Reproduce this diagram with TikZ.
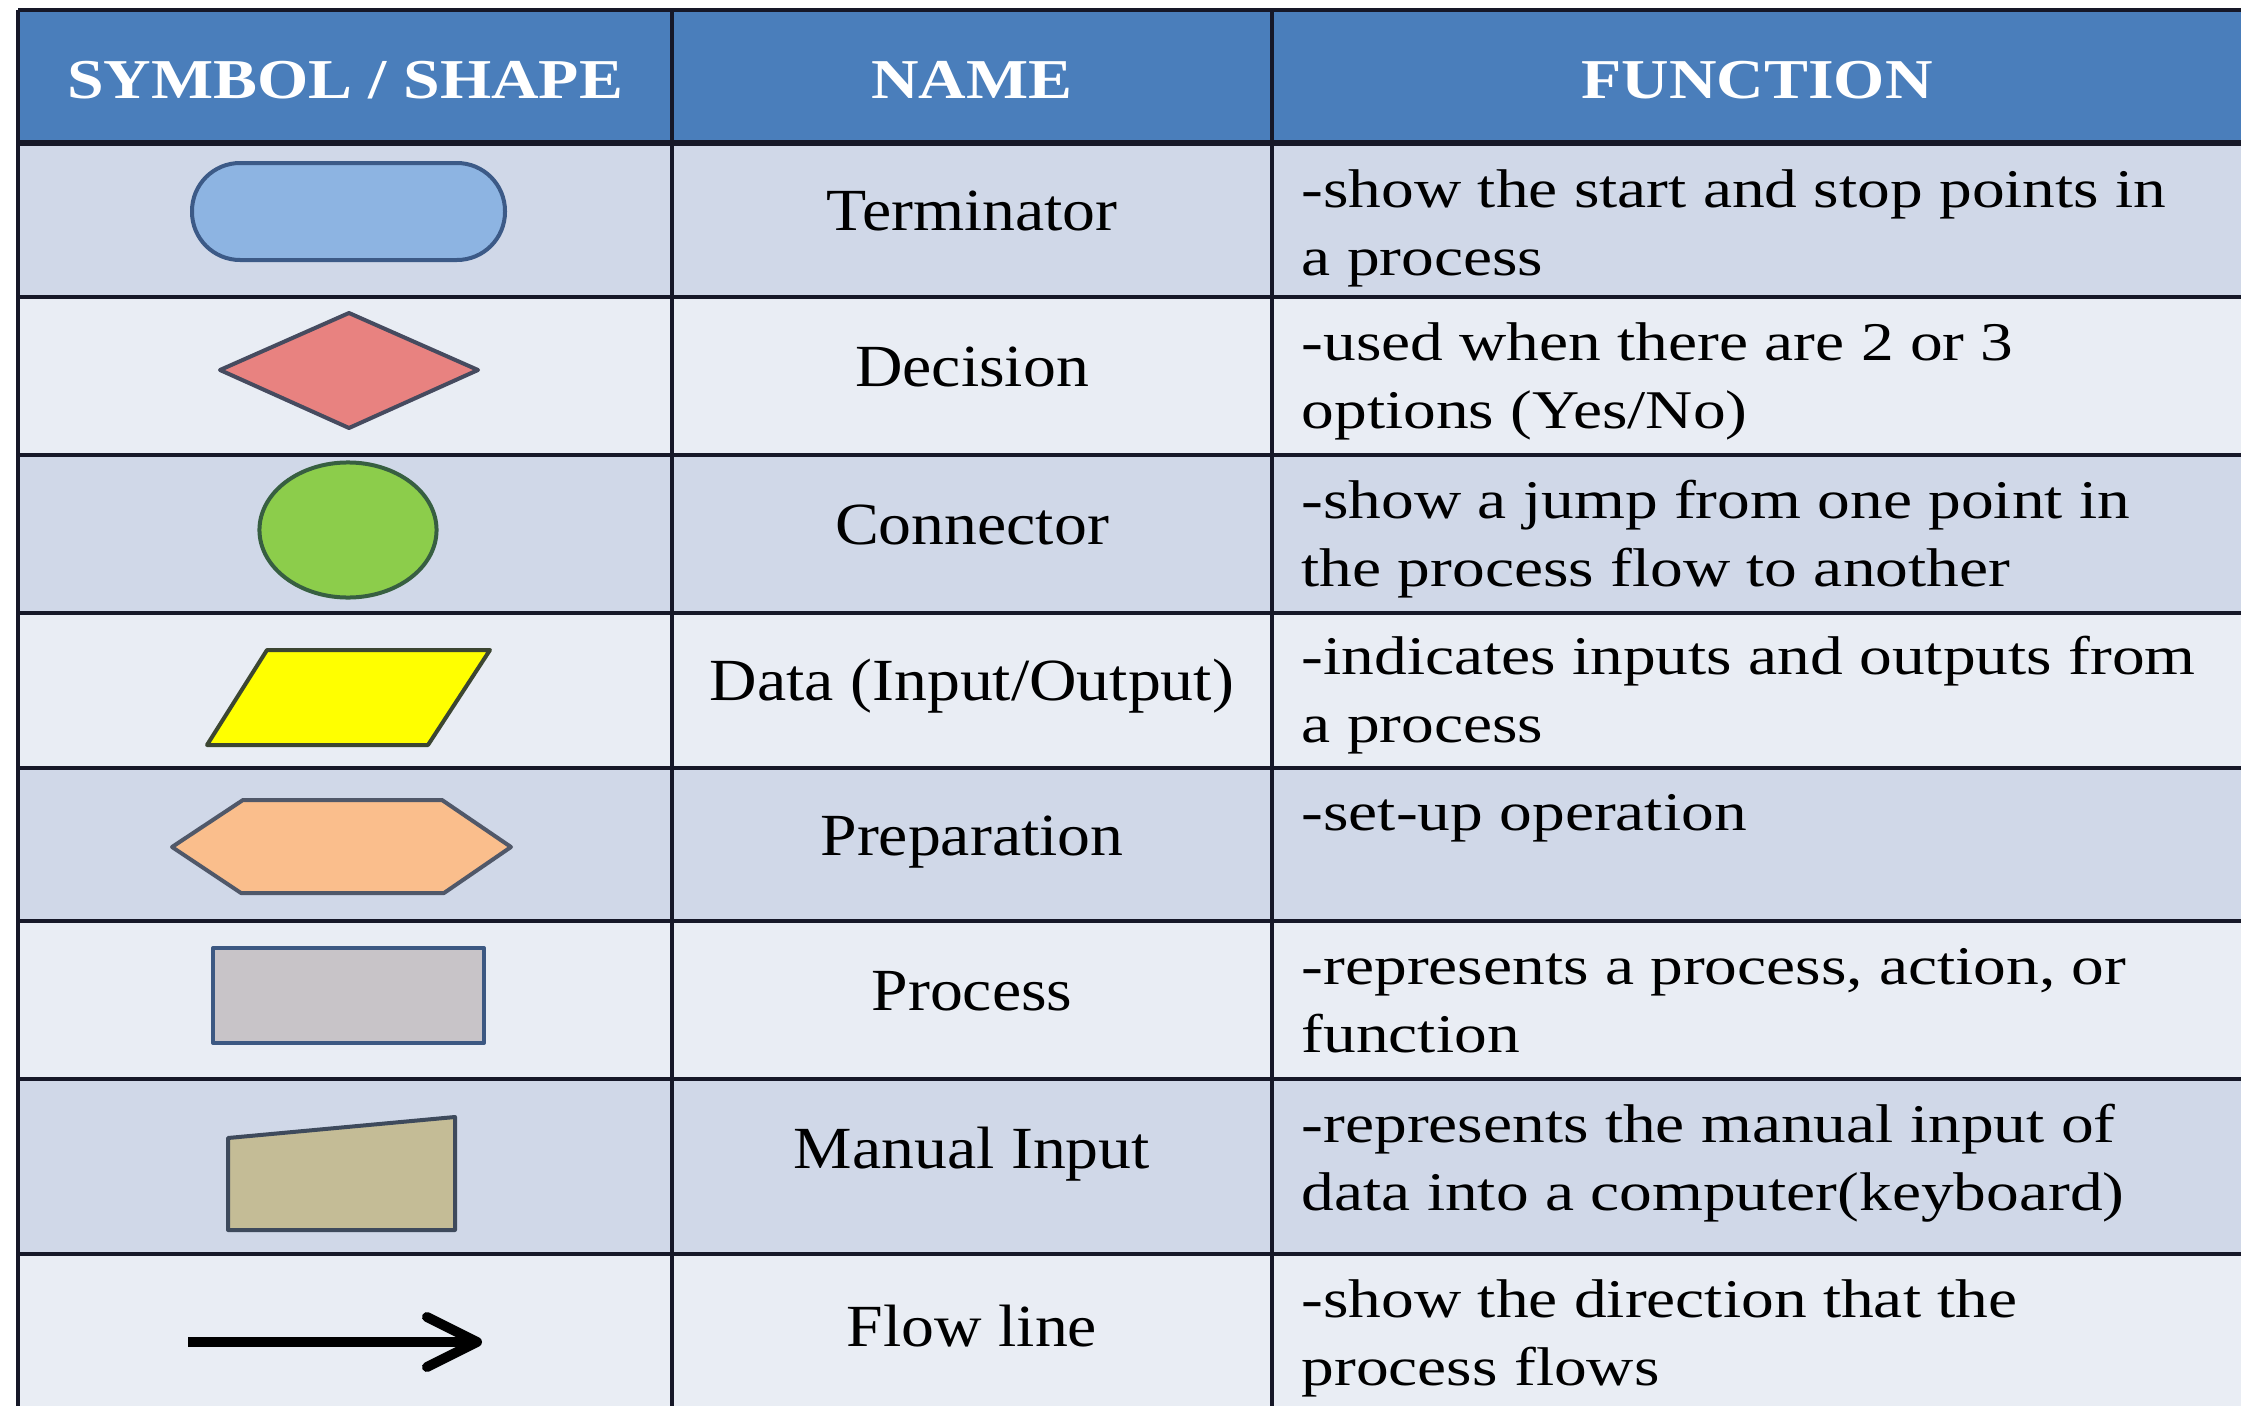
\documentclass[tikz,border=0pt]{standalone}
\usepackage{fontspec}
\setmainfont{Liberation Serif}
\newfontfamily\headfont[FakeStretch=1.17]{Liberation Serif}
\newfontfamily\namefont[FakeStretch=1.1]{Liberation Serif}
\newfontfamily\funcfont[FakeStretch=1.2]{Liberation Serif}
\usetikzlibrary{arrows.meta}

\definecolor{headblue}{RGB}{74,126,187}
\definecolor{rowdark}{RGB}{208,216,232}
\definecolor{rowlight}{RGB}{233,237,244}
\definecolor{gridline}{RGB}{22,24,40}
\definecolor{termfill}{RGB}{141,180,226}
\definecolor{termline}{RGB}{60,90,135}
\definecolor{decfill}{RGB}{232,130,128}
\definecolor{decline}{RGB}{70,75,95}
\definecolor{confill}{RGB}{140,205,75}
\definecolor{conline}{RGB}{55,95,65}
\definecolor{datafill}{RGB}{255,255,0}
\definecolor{dataline}{RGB}{60,70,50}
\definecolor{prepfill}{RGB}{250,190,140}
\definecolor{prepline}{RGB}{80,88,105}
\definecolor{procfill}{RGB}{200,196,200}
\definecolor{procline}{RGB}{60,88,130}
\definecolor{manfill}{RGB}{196,188,150}
\definecolor{manline}{RGB}{62,74,92}

\begin{document}
\begin{tikzpicture}[x = 0.01cm, y = -0.01cm,
	headcell/.style = {anchor=base, text=white, font=\headfont\bfseries\fontsize{16}{19}\selectfont},
	namecell/.style = {anchor=base, font=\namefont\fontsize{17}{20}\selectfont},
	funccell/.style = {anchor=base west, align=left, inner sep=0pt, font=\funcfont\fontsize{15.5}{19.07}\selectfont},
	gridrule/.style = {draw=gridline, line width=0.04cm},
	symbol/.style = {line width=0.04cm, line join=round}]
	\useasboundingbox (0,0) rectangle (2241,1406);
	\fill[white] (0,0) rectangle (2241,1406);
	% header and rows
	\fill[headblue] (18,10) rectangle (2241,143);
	\fill[rowdark] (18,143) rectangle (2241,297);
	\fill[rowlight] (18,297) rectangle (2241,455);
	\fill[rowdark] (18,455) rectangle (2241,613);
	\fill[rowlight] (18,613) rectangle (2241,768);
	\fill[rowdark] (18,768) rectangle (2241,921);
	\fill[rowlight] (18,921) rectangle (2241,1079);
	\fill[rowdark] (18,1079) rectangle (2241,1254);
	\fill[rowlight] (18,1254) rectangle (2241,1406);
	% grid
	\draw[gridrule] (18,10) -- (2241,10);
	\draw[gridrule, line width=0.05cm] (18,143) -- (2241,143);
	\draw[gridrule] (18,297) -- (2241,297);
	\draw[gridrule] (18,455) -- (2241,455);
	\draw[gridrule] (18,613) -- (2241,613);
	\draw[gridrule] (18,768) -- (2241,768);
	\draw[gridrule] (18,921) -- (2241,921);
	\draw[gridrule] (18,1079) -- (2241,1079);
	\draw[gridrule] (18,1254) -- (2241,1254);
	\draw[gridrule] (18,10) -- (18,1406);
	\draw[gridrule] (672,10) -- (672,1406);
	\draw[gridrule] (1272,10) -- (1272,1406);
	% header
	\node[headcell] (hsym) at (345,98) {SYMBOL / SHAPE};
	\node[headcell] (hname) at (972,98) {NAME};
	\node[headcell] (hfunc) at (1757,98) {FUNCTION};
	% symbols
	\draw[symbol, draw=termline, fill=termfill, rounded corners=0.48cm] (192,163) rectangle (505,260);
	\draw[symbol, draw=decline, fill=decfill] (220,370) -- (349,313) -- (478,370) -- (349,428) -- cycle;
	\draw[symbol, draw=conline, fill=confill] (348,530) ellipse [x radius=0.885cm, y radius=0.675cm];
	\draw[symbol, draw=dataline, fill=datafill] (207,745) -- (428,745) -- (490,650) -- (267,650) -- cycle;
	\draw[symbol, draw=prepline, fill=prepfill] (172,847) -- (243,800) -- (442,800) -- (511,847) -- (444,893) -- (241,893) -- cycle;
	\draw[symbol, draw=procline, fill=procfill] (213,948) rectangle (484,1043);
	\draw[symbol, draw=manline, fill=manfill] (228,1138) -- (455,1117) -- (455,1230) -- (228,1230) -- cycle;
	\coordinate (flowstart) at (188,1342);
	\coordinate (flowend) at (482,1342);
	\draw[line width=0.1cm, -{Straight Barb[length=0.5cm, width=0.5cm, round]}] (flowstart) -- (flowend);
	% names
	\node[namecell] (n1) at (972,230) {Terminator};
	\node[namecell] (n2) at (972,386) {Decision};
	\node[namecell] (n3) at (972,544) {Connector};
	\node[namecell] (n4) at (972,700) {Data (Input/Output)};
	\node[namecell] (n5) at (972,855) {Preparation};
	\node[namecell] (n6) at (972,1010) {Process};
	\node[namecell] (n7) at (972,1168) {Manual Input};
	\node[namecell] (n8) at (972,1346) {Flow line};
	% functions (base = last line)
	\node[funccell] (f1) at (1301,275) {-show the start and stop points in\\a process};
	\node[funccell] (f2) at (1301,428) {-used when there are 2 or 3\\options (Yes/No)};
	\node[funccell] (f3) at (1301,586) {-show a jump from one point in\\the process flow to another};
	\node[funccell] (f4) at (1301,742) {-indicates inputs and outputs from\\a process};
	\node[funccell] (f5) at (1301,830) {-set-up operation};
	\node[funccell] (f6) at (1301,1052) {-represents a process, action, or\\function};
	\node[funccell] (f7) at (1301,1210) {-represents the manual input of\\data into a computer(keyboard)};
	\node[funccell] (f8) at (1301,1385) {-show the direction that the\\process flows};
\end{tikzpicture}
\end{document}
